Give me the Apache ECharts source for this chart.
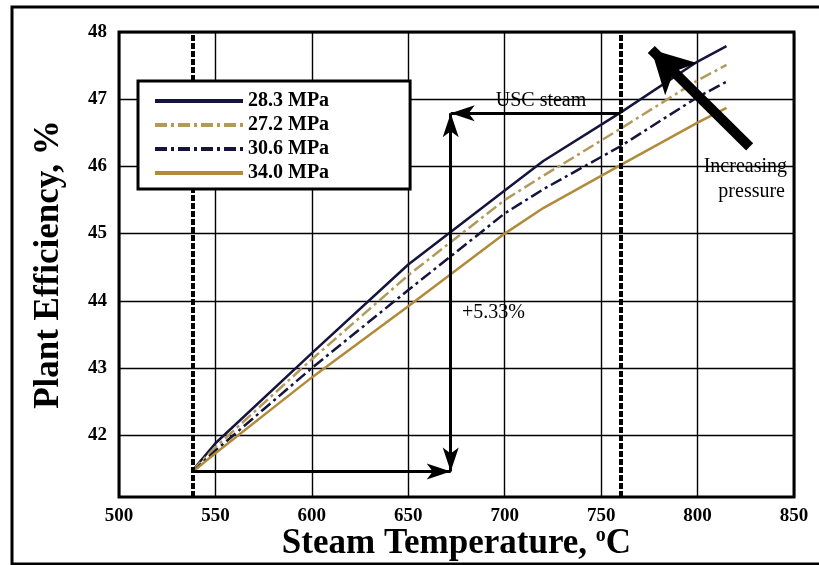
<!DOCTYPE html>
<html>
<head>
<meta charset="utf-8">
<script src="https://cdn.jsdelivr.net/npm/echarts@6/dist/echarts.min.js"></script>
<style>
  html, body { margin: 0; padding: 0; background: #fff; }
  #chart { width: 819px; height: 565px; }
</style>
</head>
<body>
<div id="chart"></div>
<script>
// Steam temperature (°C) at which each efficiency value is read
const temps = [538, 550, 600, 650, 700, 720, 760, 800, 815];

// Plant efficiency (%) for each main-steam pressure
const eff283 = [41.47, 41.88, 43.22, 44.54, 45.64, 46.08, 46.80, 47.56, 47.79];
const eff272 = [41.47, 41.82, 43.13, 44.38, 45.50, 45.86, 46.56, 47.28, 47.51];
const eff306 = [41.45, 41.77, 43.00, 44.16, 45.30, 45.66, 46.30, 47.03, 47.26];
const eff340 = [41.45, 41.73, 42.86, 43.92, 45.00, 45.38, 46.02, 46.65, 46.87];

const seriesNames = ['28.3 MPa', '27.2 MPa', '30.6 MPa', '34.0 MPa'];

// Axis ticks
const yTicks = [42, 43, 44, 45, 46, 47, 48];

// Reference temperatures and the efficiency gain between them
const baseTemp = 538;
const uscTemp = 760;
const gainTemp = 672;
const baseEff = 41.46;
const uscEff = 46.79;
const gainLabel = '+5.33%';

// "Increasing pressure" arrow, tail -> head
const pressureArrow = [[827, 46.29], [776, 47.74]];

const serif = "'Liberation Serif', 'DejaVu Serif', 'Times New Roman', serif";
const navy = '#15143c';
const goldDash = '#b39a5a';
const goldSolid = '#b08b3a';

const pairs = (ys) => temps.map((t, i) => [t, ys[i]]);

const chart = echarts.init(document.getElementById('chart'), null, { renderer: 'canvas' });

const lineSeries = (name, ys, color, type, width) => ({
  name: name,
  type: 'line',
  data: pairs(ys),
  showSymbol: false,
  symbol: 'none',
  smooth: false,
  z: 3,
  lineStyle: { color: color, width: width, type: type },
  itemStyle: { color: color }
});

chart.setOption({
  animation: false,
  backgroundColor: '#fff',
  grid: {
    left: 119, right: 25, top: 32, bottom: 68,
    outerBoundsMode: 'none',
    containLabel: false,
    show: true, borderColor: '#000', borderWidth: 3, backgroundColor: 'transparent'
  },
  xAxis: {
    type: 'value', min: 500, max: 850, interval: 50,
    axisLine: { show: false },
    axisTick: { show: false },
    splitLine: { show: true, lineStyle: { color: '#000', width: 1.4 } },
    axisLabel: { color: '#000', fontFamily: serif, fontWeight: 'bold', fontSize: 19, margin: 10 },
    name: 'Steam Temperature, {s|o}C',
    nameLocation: 'middle',
    nameGap: 29,
    nameMoveOverlap: false,
    nameTextStyle: {
      color: '#000', fontFamily: serif, fontWeight: 'bold', fontSize: 35, lineHeight: 36,
      rich: {
        s: { color: '#000', fontFamily: serif, fontWeight: 'bold', fontSize: 20, verticalAlign: 'top', lineHeight: 36 }
      }
    }
  },
  yAxis: {
    type: 'value', min: 41.08, max: 48,
    axisLine: { show: false },
    axisTick: { show: false, customValues: yTicks },
    splitLine: { show: true, lineStyle: { color: '#000', width: 1.4 } },
    axisLabel: { customValues: yTicks, color: '#000', fontFamily: serif, fontWeight: 'bold', fontSize: 19, margin: 12 },
    name: 'Plant Efficiency, %',
    nameLocation: 'middle',
    nameGap: 53,
    nameRotate: 90,
    nameMoveOverlap: false,
    nameTextStyle: { color: '#000', fontFamily: serif, fontWeight: 'bold', fontSize: 35 }
  },
  legend: {
    data: seriesNames,
    orient: 'vertical',
    left: 138, top: 81,
    itemWidth: 88, itemHeight: 14, itemGap: 4,
    padding: [10, 81, 6, 15],
    borderColor: '#000', borderWidth: 3, borderRadius: 0,
    backgroundColor: '#fff',
    lineStyle: { width: 4 },
    itemStyle: { color: 'transparent', borderWidth: 0, opacity: 0 },
    selectedMode: false,
    z: 10,
    textStyle: { color: '#000', fontFamily: serif, fontWeight: 'bold', fontSize: 20, lineHeight: 20 }
  },
  series: [
    lineSeries(seriesNames[0], eff283, navy, 'solid', 2.5),
    lineSeries(seriesNames[1], eff272, goldDash, [12, 4, 3, 4], 2.5),
    lineSeries(seriesNames[2], eff306, navy, [12, 4, 3, 4], 2.5),
    lineSeries(seriesNames[3], eff340, goldSolid, 'solid', 2.5),
    {
      // dashed reference temperatures
      name: 'refs', type: 'line', data: [], z: 4,
      markLine: {
        silent: true, symbol: ['none', 'none'], label: { show: false },
        lineStyle: { color: '#000', width: 4, type: [6, 2] },
        data: [{ xAxis: baseTemp }, { xAxis: uscTemp }]
      }
    },
    {
      // efficiency gain bracket arrows
      name: 'gain', type: 'line', data: [], z: 5,
      markLine: {
        silent: true, label: { show: false },
        symbolSize: [12, 24],
        lineStyle: { color: '#000', width: 3, type: 'solid' },
        data: [
          [{ coord: [baseTemp, baseEff], symbol: 'none' }, { coord: [gainTemp, baseEff], symbol: 'arrow' }],
          [{ coord: [gainTemp, baseEff], symbol: 'arrow' }, { coord: [gainTemp, uscEff], symbol: 'arrow' }],
          [{ coord: [uscTemp, uscEff], symbol: 'none' }, { coord: [gainTemp, uscEff], symbol: 'arrow' }]
        ]
      }
    },
    {
      // increasing pressure arrow
      name: 'pressure', type: 'line', data: [], z: 6,
      markLine: {
        silent: true, label: { show: false },
        symbol: ['none', 'arrow'],
        symbolSize: [34, 42],
        lineStyle: { color: '#000', width: 10, type: 'solid' },
        data: [[{ coord: pressureArrow[0] }, { coord: pressureArrow[1] }]]
      }
    }
  ],
  graphic: [
    {
      type: 'rect', z: 100, silent: true,
      shape: { x: 12, y: 7, width: 830, height: 557 },
      style: { fill: 'none', stroke: '#000', lineWidth: 3 }
    },
    {
      type: 'text', x: 541, y: 101, z: 100, silent: true,
      style: { text: 'USC steam', fill: '#000', font: '20px ' + serif, align: 'center', verticalAlign: 'middle' }
    },
    {
      type: 'text', x: 462, y: 313, z: 100, silent: true,
      style: { text: gainLabel, fill: '#000', font: '20px ' + serif, align: 'left', verticalAlign: 'middle' }
    },
    {
      type: 'text', x: 787, y: 167, z: 100, silent: true,
      style: { text: 'Increasing', fill: '#000', font: '20px ' + serif, align: 'right', verticalAlign: 'middle' }
    },
    {
      type: 'text', x: 785, y: 192, z: 100, silent: true,
      style: { text: 'pressure', fill: '#000', font: '20px ' + serif, align: 'right', verticalAlign: 'middle' }
    }
  ]
});
</script>
</body>
</html>
